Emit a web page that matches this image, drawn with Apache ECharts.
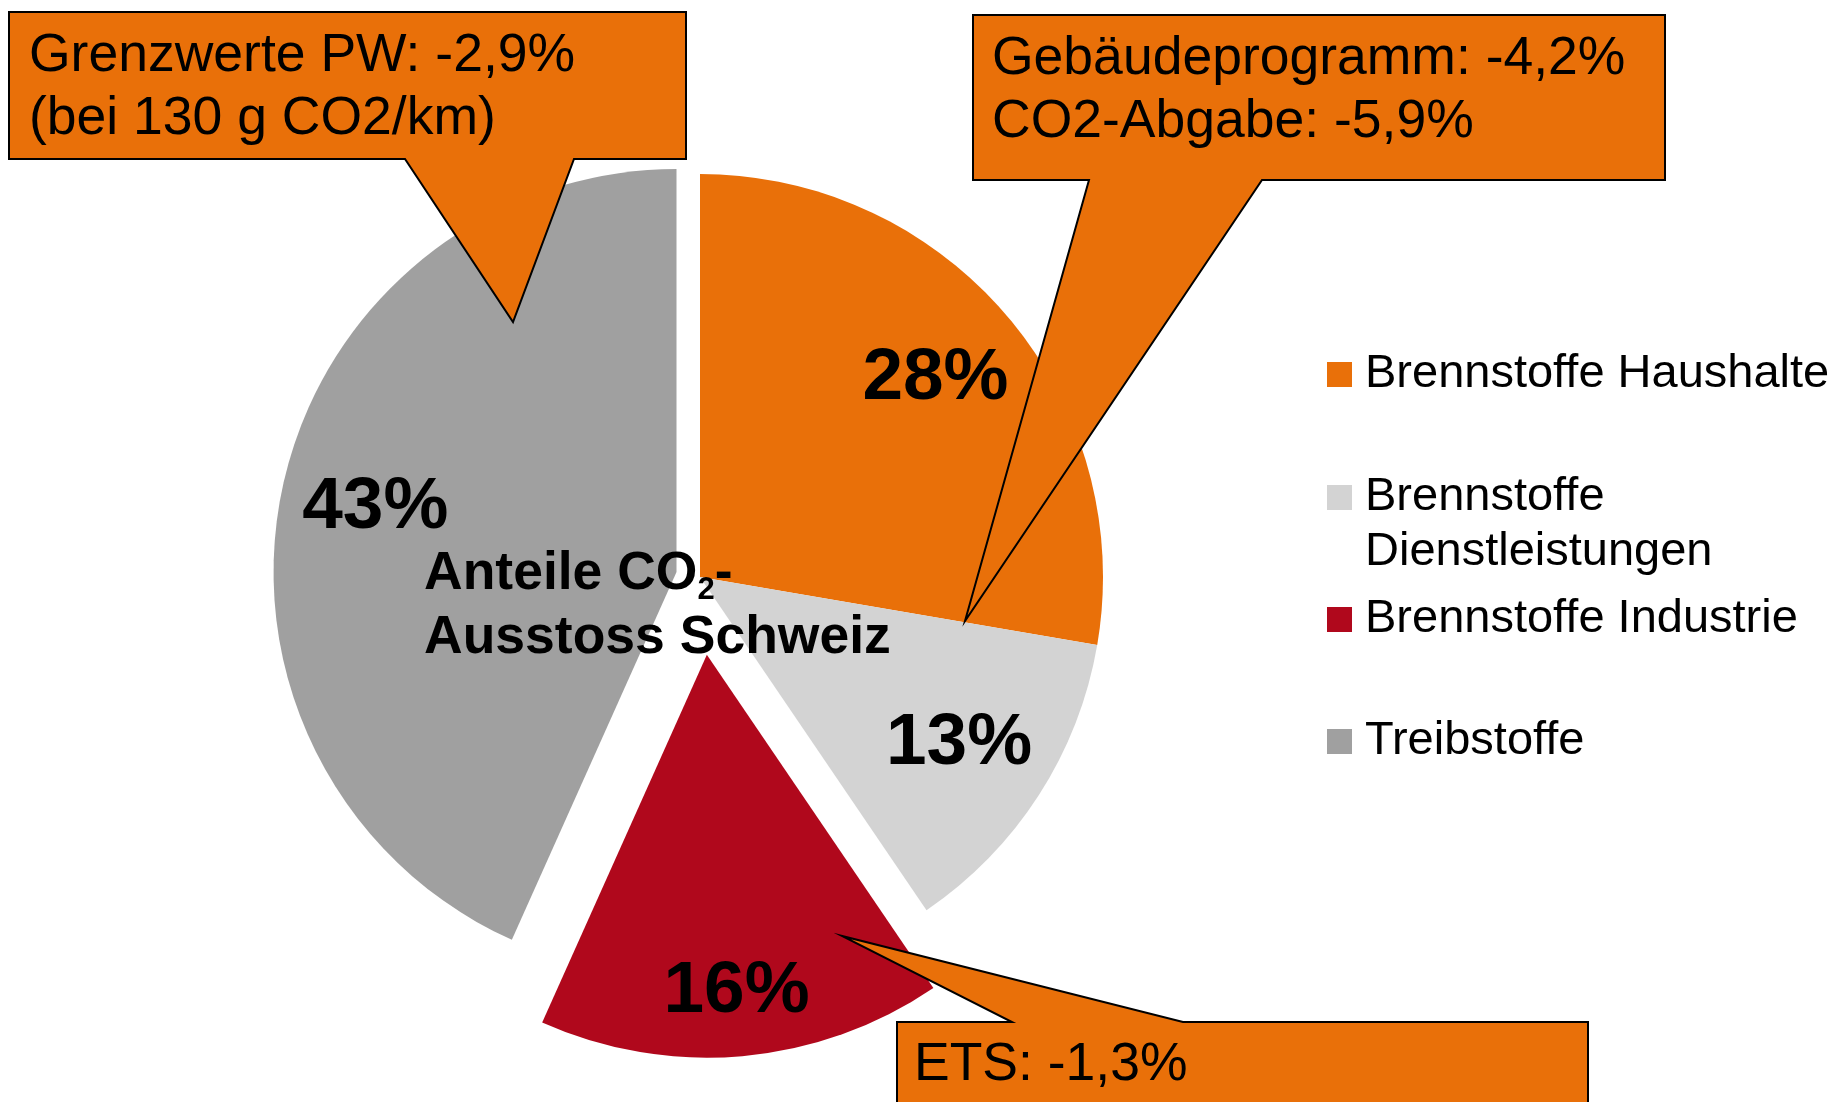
<!DOCTYPE html>
<html>
<head>
<meta charset="utf-8">
<title>Anteile CO2-Ausstoss Schweiz</title>
<script src="https://cdn.jsdelivr.net/npm/echarts@6/dist/echarts.min.js"></script>
<style>
    html, body { margin: 0; padding: 0; background: #ffffff; }
    #chart { width: 1836px; height: 1102px; }
</style>
</head>
<body>
<div id="chart"></div>
<script>
    // data (shares, labels show them rounded)
    var categories = ['Brennstoffe Haushalte', 'Brennstoffe Dienstleistungen', 'Brennstoffe Industrie', 'Treibstoffe'];
    var shares = [27.7, 12.8, 16.2, 43.3];
    var legendLabels = ['Brennstoffe Haushalte', '\nBrennstoffe\nDienstleistungen', 'Brennstoffe Industrie', 'Treibstoffe'];
    var calloutTexts = ['Grenzwerte PW: -2,9%\n(bei 130 g CO2/km)', 'Gebäudeprogramm: -4,2%\nCO2-Abgabe: -5,9%', 'ETS: -1,3%'];

    var colors = ['#E97009', '#D3D3D3', '#B0081C', '#A0A0A0'];
    var NONE = 'rgba(0,0,0,0)';
    var FONT = '"Liberation Sans", Arial, sans-serif';
    var ORANGE = '#E97009';

    var chart = echarts.init(document.getElementById('chart'));

    // shown = slices painted (or labelled) by this series, pulled = slice moved out by selectedOffset
    function sliceData(shown, pulled, labelOnly) {
        return categories.map(function (name, i) {
            var on = shown.indexOf(i) >= 0;
            return {
                name: name,
                value: shares[i],
                selected: i === pulled,
                itemStyle: { color: (on && !labelOnly) ? colors[i] : NONE },
                label: { show: labelOnly && on }
            };
        });
    }

    function pie(offset, radius, data) {
        return {
            type: 'pie',
            center: [700, 577],
            radius: radius,
            startAngle: 90,
            clockwise: true,
            selectedMode: 'multiple',
            selectedOffset: offset,
            silent: true,
            animation: false,
            avoidLabelOverlap: false,
            itemStyle: { borderWidth: 0 },
            select: { itemStyle: { borderWidth: 0 } },
            emphasis: { disabled: true },
            label: {
                position: 'inside',
                formatter: function (p) { return Math.round(p.value) + '%'; },
                color: '#000',
                fontFamily: FONT,
                fontWeight: 'bold',
                fontSize: 73
            },
            labelLine: { show: false },
            data: data
        };
    }

    // one legend per entry so the spacing can follow the reference
    function legendItem(i, top) {
        return {
            left: 1327,
            top: top,
            padding: 0,
            orient: 'vertical',
            icon: 'rect',
            itemWidth: 25,
            itemHeight: 25,
            selectedMode: false,
            formatter: function () { return legendLabels[i]; },
            textStyle: {
                fontFamily: FONT,
                fontSize: 47,
                color: '#000',
                lineHeight: i === 1 ? 55 : 47,
                padding: [0, 0, 0, 8]
            },
            data: [{ name: categories[i], itemStyle: { color: colors[i], borderWidth: 0 } }]
        };
    }

    function callout(points, text, x, y) {
        return [{
            type: 'polygon',
            z: 100,
            silent: true,
            shape: { points: points },
            style: { fill: ORANGE, stroke: '#000', lineWidth: 2 }
        }, {
            type: 'text',
            z: 101,
            silent: true,
            x: x,
            y: y,
            style: {
                text: text,
                font: '53.5px ' + FONT,
                fill: '#000',
                lineHeight: 63,
                verticalAlign: 'top'
            }
        }];
    }

    var option = {
        backgroundColor: '#ffffff',
        animation: false,
        title: {
            left: 424,
            top: 542,
            padding: 0,
            text: '{b|Anteile CO}{s|2}{b|-}\n{b|Ausstoss Schweiz}',
            textStyle: {
                rich: {
                    b: { fontFamily: FONT, fontWeight: 'bold', fontSize: 53.5, lineHeight: 64, color: '#000' },
                    s: { fontFamily: FONT, fontWeight: 'bold', fontSize: 31, lineHeight: 64, verticalAlign: 'bottom', color: '#000' }
                }
            }
        },
        legend: [
            legendItem(0, 351),
            legendItem(1, 415),
            legendItem(2, 596),
            legendItem(3, 718)
        ],
        series: [
            pie(24, [0, 403], sliceData([0, 1, 3], 3, false)),
            pie(78, [0, 403], sliceData([2], 2, false)),
            pie(24, [0, 610], sliceData([0, 1, 3], 3, true)),
            pie(78, [0, 670], sliceData([2], 2, true))
        ],
        graphic: [].concat(
            callout([[9, 12], [686, 12], [686, 159], [574, 159], [513, 322], [405, 159], [9, 159]], calloutTexts[0], 29, 25),
            callout([[973, 15], [1665, 15], [1665, 180], [1262, 180], [965, 621], [1089, 180], [973, 180]], calloutTexts[1], 992, 28),
            callout([[897, 1022], [1012, 1022], [842, 936], [1183, 1022], [1588, 1022], [1588, 1112], [897, 1112]], calloutTexts[2], 914, 1034)
        )
    };

    chart.setOption(option);

    window.onresize = function () {
        chart.resize();
    };
</script>
</body>
</html>
